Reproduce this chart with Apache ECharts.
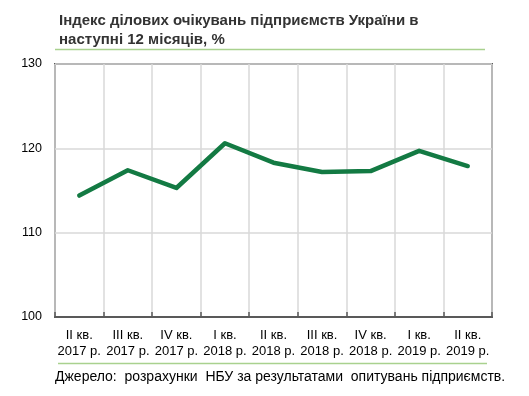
<!DOCTYPE html>
<html><head><meta charset="utf-8">
<script src="https://cdn.jsdelivr.net/npm/echarts@6/dist/echarts.min.js"></script>
<style>html,body{margin:0;padding:0;background:#fff}#c{width:529px;height:396px}</style>
</head><body><div id="c"></div>
<script>
const categories = ['II кв.\n2017 р.','III кв.\n2017 р.','IV кв.\n2017 р.','I кв.\n2018 р.','II кв.\n2018 р.','III кв.\n2018 р.','IV кв.\n2018 р.','I кв.\n2019 р.','II кв.\n2019 р.'];
const values = [114.4, 117.4, 115.3, 120.6, 118.3, 117.2, 117.3, 119.7, 117.9];
const yTicks = [100, 110, 120, 130];
const titleText = 'Індекс ділових очікувань підприємств України в\nнаступні 12 місяців, %';
const sourceText = 'Джерело:  розрахунки  НБУ за результатами  опитувань підприємств.';

const chart = echarts.init(document.getElementById('c'), null, {renderer:'canvas'});
const font = '"Liberation Sans", Arial, sans-serif';
chart.setOption({
  animation: false,
  textStyle: {fontFamily: font},
  grid: {left: 55, right: 37, top: 64, bottom: 79, show: true, borderColor: '#595959', borderWidth: 2, backgroundColor: 'transparent'},
  graphic: [
    {type:'text', left: 59, top: 11, style:{text: titleText, font: 'bold 15px ' + font, fill:'#333', lineHeight: 19}},
    {type:'line', shape:{x1:55, y1:49.5, x2:485, y2:49.5}, style:{stroke:'#a9d18e', lineWidth:1.5}},
    {type:'line', shape:{x1:58, y1:363.5, x2:487, y2:363.5}, style:{stroke:'#a9d18e', lineWidth:1.5}},
    {type:'text', left: 55, top: 370, style:{text: sourceText, font: '14px ' + font, fill:'#000'}}
  ],
  xAxis: {
    type: 'category', data: categories, boundaryGap: true,
    axisLine: {show: true, lineStyle:{color:'#595959', width:2}},
    axisTick: {show: true, inside: true, length: 5, lineStyle:{color:'#595959', width:1.5}},
    splitLine: {show: true, lineStyle:{color:'#d9d9d9', width:1.5}},
    axisLabel: {color:'#000', fontSize: 13, lineHeight: 16, margin: 10, interval: 0, fontFamily: font}
  },
  yAxis: {
    type: 'value', min: 100, max: 130, interval: 10,
    axisLine: {show: false}, axisTick: {show: false},
    splitLine: {show: true, lineStyle:{color:'#d9d9d9', width:1.5}},
    axisLabel: {color:'#000', fontSize: 12.5, margin: 13, fontFamily: font,
      formatter: v => yTicks.includes(v) ? String(v) : ''}
  },
  series: [{
    type: 'line', data: values, symbol: 'none',
    lineStyle: {color:'#137a43', width: 4.5, cap: 'round', join: 'round'}
  }]
});
</script></body></html>
